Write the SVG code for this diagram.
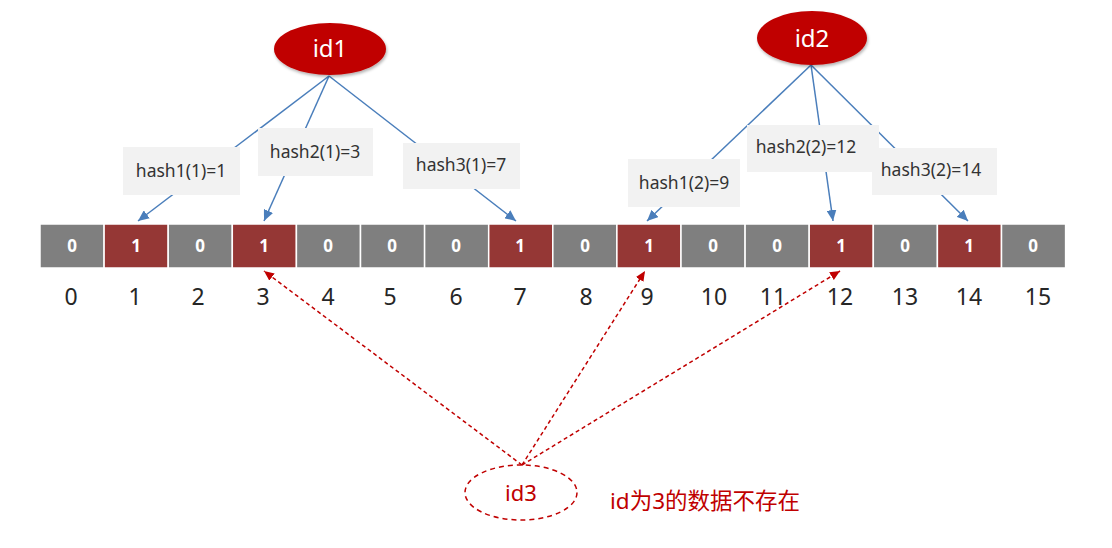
<svg xmlns="http://www.w3.org/2000/svg" width="1112" height="548" viewBox="0 0 1112 548">
<style>
.cell0{fill:#7f7f7f;stroke:#ffffff;stroke-width:1.5}
.cell1{fill:#953735;stroke:#ffffff;stroke-width:1.5}
.val{font-family:"Noto Sans","DejaVu Sans",sans-serif;font-size:17px;font-weight:bold;fill:#ffffff;text-anchor:middle}
.idx{font-family:"Noto Sans","DejaVu Sans",sans-serif;font-size:23px;fill:#262626;text-anchor:middle}
.box{fill:#f2f2f2}
.btxt{font-family:"Noto Sans","DejaVu Sans",sans-serif;font-size:17.5px;fill:#333333;text-anchor:middle}
.blue{stroke:#4a7ebb;stroke-width:1.5;fill:none;marker-end:url(#ab)}
.red{stroke:#c00000;stroke-width:1.5;fill:none;stroke-dasharray:4 3;marker-end:url(#ar)}
.idn{fill:#c00000;filter:url(#sh)}
.idt{font-family:"Noto Sans","DejaVu Sans",sans-serif;font-size:24px;fill:#ffffff;text-anchor:middle}
.redt{font-family:"Noto Sans","Noto Sans CJK SC",sans-serif;font-size:22.5px;fill:#c00000}
</style>
<defs>
<marker id="ab" markerUnits="userSpaceOnUse" markerWidth="11" markerHeight="10" refX="11" refY="5" orient="auto">
<path d="M0,0 L11,5 L0,10 z" fill="#4a7ebb"/>
</marker>
<marker id="ar" markerUnits="userSpaceOnUse" markerWidth="10" markerHeight="9" refX="10" refY="4.5" orient="auto">
<path d="M0,0 L10,4.5 L0,9 z" fill="#c00000"/>
</marker>
<filter id="sh" x="-20%" y="-20%" width="140%" height="150%">
<feDropShadow dx="1" dy="2" stdDeviation="1.5" flood-color="#000000" flood-opacity="0.3"/>
</filter>
</defs>
<rect width="1112" height="548" fill="#ffffff"/>

<g id="array">
<rect class="cell0" x="40" y="224" width="64.1" height="44"/>
<rect class="cell1" x="104.1" y="224" width="64.1" height="44"/>
<rect class="cell0" x="168.2" y="224" width="64.1" height="44"/>
<rect class="cell1" x="232.3" y="224" width="64.1" height="44"/>
<rect class="cell0" x="296.4" y="224" width="64.1" height="44"/>
<rect class="cell0" x="360.5" y="224" width="64.1" height="44"/>
<rect class="cell0" x="424.6" y="224" width="64.1" height="44"/>
<rect class="cell1" x="488.7" y="224" width="64.1" height="44"/>
<rect class="cell0" x="552.8" y="224" width="64.1" height="44"/>
<rect class="cell1" x="616.9" y="224" width="64.1" height="44"/>
<rect class="cell0" x="681" y="224" width="64.1" height="44"/>
<rect class="cell0" x="745.1" y="224" width="64.1" height="44"/>
<rect class="cell1" x="809.2" y="224" width="64.1" height="44"/>
<rect class="cell0" x="873.3" y="224" width="64.1" height="44"/>
<rect class="cell1" x="937.4" y="224" width="64.1" height="44"/>
<rect class="cell0" x="1001.5" y="224" width="64.1" height="44"/>
<text class="val" x="72" y="252">0</text>
<text class="val" x="136" y="252">1</text>
<text class="val" x="200" y="252">0</text>
<text class="val" x="264" y="252">1</text>
<text class="val" x="328" y="252">0</text>
<text class="val" x="392" y="252">0</text>
<text class="val" x="456" y="252">0</text>
<text class="val" x="520" y="252">1</text>
<text class="val" x="585" y="252">0</text>
<text class="val" x="649" y="252">1</text>
<text class="val" x="713" y="252">0</text>
<text class="val" x="777" y="252">0</text>
<text class="val" x="841" y="252">1</text>
<text class="val" x="905" y="252">0</text>
<text class="val" x="969" y="252">1</text>
<text class="val" x="1033" y="252">0</text>
<text class="idx" x="71" y="305">0</text>
<text class="idx" x="135" y="305">1</text>
<text class="idx" x="198" y="305">2</text>
<text class="idx" x="263" y="305">3</text>
<text class="idx" x="328" y="305">4</text>
<text class="idx" x="390" y="305">5</text>
<text class="idx" x="456" y="305">6</text>
<text class="idx" x="520" y="305">7</text>
<text class="idx" x="586" y="305">8</text>
<text class="idx" x="647" y="305">9</text>
<text class="idx" x="714" y="305">10</text>
<text class="idx" x="773" y="305">11</text>
<text class="idx" x="840" y="305">12</text>
<text class="idx" x="905" y="305">13</text>
<text class="idx" x="969" y="305">14</text>
<text class="idx" x="1038" y="305">15</text>
</g>

<g id="connectors">
<line class="blue" x1="329" y1="76" x2="138" y2="221"/>
<line class="blue" x1="329" y1="76" x2="264" y2="221"/>
<line class="blue" x1="329" y1="76" x2="516" y2="221"/>
<line class="blue" x1="811" y1="65" x2="647" y2="221"/>
<line class="blue" x1="811" y1="65" x2="833" y2="221"/>
<line class="blue" x1="811" y1="65" x2="968" y2="221"/>
<line class="red" x1="522" y1="465" x2="264" y2="271"/>
<line class="red" x1="522" y1="465" x2="645" y2="271"/>
<line class="red" x1="522" y1="465" x2="840" y2="271"/>
</g>

<g id="hash1-1"><rect class="box" x="123" y="147" width="117" height="48"/><text class="btxt" x="181" y="177">hash1(1)=1</text></g>
<g id="hash2-1"><rect class="box" x="258" y="128" width="115" height="48"/><text class="btxt" x="315" y="158">hash2(1)=3</text></g>
<g id="hash3-1"><rect class="box" x="403" y="143" width="117" height="46"/><text class="btxt" x="461" y="171">hash3(1)=7</text></g>
<g id="hash1-2"><rect class="box" x="628" y="159" width="112" height="48"/><text class="btxt" x="684" y="189">hash1(2)=9</text></g>
<g id="hash2-2"><rect class="box" x="747" y="125" width="132" height="47"/><text class="btxt" x="806" y="153">hash2(2)=12</text></g>
<g id="hash3-2"><rect class="box" x="872" y="148" width="125" height="47"/><text class="btxt" x="931" y="176">hash3(2)=14</text></g>

<g id="id1"><ellipse class="idn" cx="330" cy="49" rx="56" ry="26"/><text class="idt" x="330" y="57">id1</text></g>
<g id="id2"><ellipse class="idn" cx="812" cy="38" rx="55" ry="27"/><text class="idt" x="812" y="47">id2</text></g>

<g id="id3">
<ellipse cx="521" cy="492.5" rx="56" ry="27.5" fill="none" stroke="#c00000" stroke-width="1.5" stroke-dasharray="5 4"/>
<text x="521" y="501" font-family="Noto Sans, DejaVu Sans, sans-serif" font-size="22" fill="#c00000" text-anchor="middle">id3</text>
</g>
<g id="note"><text class="redt" x="610" y="509">id为3的数据不存在</text></g>
</svg>
